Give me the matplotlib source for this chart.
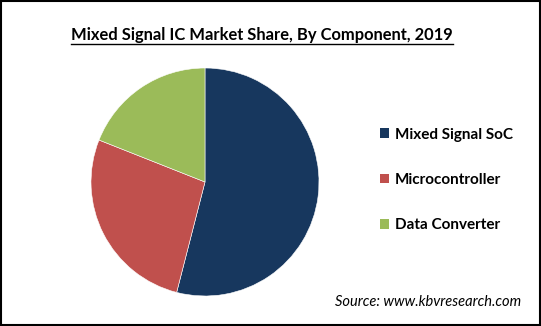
import matplotlib

matplotlib.use("Agg")
import matplotlib.pyplot as plt
from matplotlib.lines import Line2D
from matplotlib.patches import Patch, Rectangle

components = ["Mixed Signal SoC", "Microcontroller", "Data Converter"]
shares = [54, 27, 19]
colors = ["#17375E", "#C0504D", "#9BBB59"]

title = "Mixed Signal IC Market Share, By Component, 2019"
source = "Source: www.kbvresearch.com"

plt.rcParams["font.family"] = ["Lato", "DejaVu Sans"]

W, H = 541, 326
fig = plt.figure(figsize=(W / 100, H / 100), dpi=100)

# pie centred at (205, 182) px, radius 114 px
cx, cy, r = 205, 182, 114
ax = fig.add_axes([(cx - r) / W, (H - cy - r) / H, 2 * r / W, 2 * r / H])
ax.pie(shares, colors=colors, startangle=90, counterclock=False,
       wedgeprops=dict(linewidth=0.4, edgecolor="white"))
ax.set_xlim(-1, 1)
ax.set_ylim(-1, 1)
ax.set_aspect("equal")
ax.axis("off")

t = fig.text(262 / W, 1 - 35 / H, title, ha="center", va="center",
             fontsize=11.9, fontweight="bold")

handles = [Patch(facecolor=c, edgecolor="none") for c in colors]
leg = fig.legend(handles, components, loc="center left",
                 bbox_to_anchor=(366 / W, 1 - 180 / H), frameon=False,
                 prop=dict(size=11, weight="bold"), handlelength=0.6,
                 handleheight=0.6, handletextpad=0.4, labelspacing=2.05)

fig.text(521 / W, 1 - 302 / H, source, ha="right", va="center",
         fontsize=10.5, style="italic")

# underline the title
fig.canvas.draw()
bb = t.get_window_extent().transformed(fig.transFigure.inverted())
fig.add_artist(Line2D([bb.x0, bb.x1], [bb.y0 - 0.003, bb.y0 - 0.003],
                      color="black", linewidth=1.0, transform=fig.transFigure))

# outer frame
fig.add_artist(Rectangle((0.002, 0.003), 0.996, 0.994, fill=False,
                         edgecolor="black", linewidth=1.5,
                         transform=fig.transFigure))

fig.savefig("out.png", dpi=100)
plt.close(fig)
